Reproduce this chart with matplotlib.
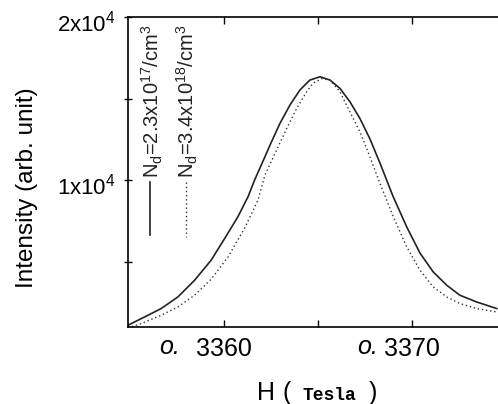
import matplotlib
matplotlib.use("Agg")
import matplotlib.pyplot as plt
import matplotlib.transforms as mtransforms
from matplotlib.lines import Line2D
from matplotlib.ticker import FixedLocator

plt.rcParams['font.family'] = ['Liberation Sans', 'DejaVu Sans']
plt.rcParams['mathtext.fontset'] = 'custom'
plt.rcParams['mathtext.rm'] = 'Liberation Sans'
plt.rcParams['mathtext.it'] = 'Liberation Sans:italic'

# field (Tesla) and intensity
h_low = [0.335489, 0.335578, 0.335666, 0.335755, 0.335844, 0.335932, 0.336004,
         0.336074, 0.336128, 0.336163, 0.336218, 0.336245, 0.336298, 0.336351,
         0.336404, 0.336457, 0.336511, 0.336564, 0.336617, 0.336670, 0.336723,
         0.336777, 0.336830, 0.336899, 0.336972, 0.337043, 0.337113, 0.337185,
         0.337255, 0.337344, 0.337451]
i_low = [1104, 1614, 2129, 2840, 3865, 5092, 6423,
         7749, 8976, 10000, 11430, 12147, 13479, 14601,
         15522, 16135, 16338, 16135, 15626, 14804, 13785,
         12515, 11043, 9018, 7135, 5522, 4374, 3558,
         2945, 2534, 2129]

h_high = [0.335489, 0.335560, 0.335666, 0.335755, 0.335844, 0.335932, 0.336021,
          0.336110, 0.336181, 0.336218, 0.336280, 0.336334, 0.336387, 0.336440,
          0.336475, 0.336520, 0.336564, 0.336617, 0.336670, 0.336723, 0.336759,
          0.336830, 0.336901, 0.336972, 0.337043, 0.337113, 0.337185, 0.337255,
          0.337344, 0.337451]
i_high = [951, 1209, 1718, 2227, 2945, 3926, 5276,
          7055, 8773, 10307, 11841, 13172, 14399, 15418,
          15951, 16227, 16135, 15418, 14190, 12963, 11945,
          9798, 7749, 5908, 4479, 3454, 2840, 2436,
          2129, 1920]

label_low = r"N$_{\mathregular{d}}$=2.3x10$^{\mathregular{17}}$/cm$^{\mathregular{3}}$"
label_high = r"N$_{\mathregular{d}}$=3.4x10$^{\mathregular{18}}$/cm$^{\mathregular{3}}$"

x_major = [0.3360, 0.3370]
x_major_labels = ["3360", "3370"]
x_minor = [0.3365]
y_major = [10000, 20000]
y_major_labels = [r"1x10$^{\mathregular{4}}$", r"2x10$^{\mathregular{4}}$"]
y_minor = [5000, 15000]

W, H = 498, 404
fig = plt.figure(figsize=(W / 100, H / 100), dpi=100)
# axes runs past the right edge of the picture, as in the scanned original
ax = fig.add_axes([128 / W, (H - 327) / H, (506 - 128) / W, 310 / H])

solid = dict(color='#222222', lw=1.2, ls='-')
dotted = dict(color='#333333', lw=1.0, ls=(0, (1, 2)))
ax.plot(h_low, i_low, **solid)
ax.plot(h_high, i_high, **dotted)

ax.set_xlim(0.33549, 0.33750)
ax.set_ylim(1000, 20000)

ax.xaxis.set_major_locator(FixedLocator(x_major))
ax.set_xticklabels(x_major_labels)
ax.xaxis.set_minor_locator(FixedLocator(x_minor))
ax.yaxis.set_major_locator(FixedLocator(y_major))
ax.set_yticklabels(y_major_labels)
ax.yaxis.set_minor_locator(FixedLocator(y_minor))

ax.tick_params(axis='x', which='both', direction='in', top=True, length=5,
               width=1, labelsize=18, pad=7)
ax.tick_params(axis='y', which='both', direction='inout', right=False, length=6,
               width=1, labelsize=16, pad=6)
for sp in ax.spines.values():
    sp.set_linewidth(1.2)

# y tick labels sit a little below their ticks in the original
shift = mtransforms.ScaledTranslation(0, -4 / 100, fig.dpi_scale_trans)
for lab in ax.get_yticklabels():
    lab.set_transform(lab.get_transform() + shift)

# italic "o." prefix sitting left of each x tick number
for xv, gap in zip(x_major, [-44, -34]):
    ax.annotate("o.", xy=(xv, 0), xycoords=ax.get_xaxis_transform(),
                xytext=(gap, -27), textcoords='offset pixels',
                ha='right', va='baseline', fontsize=18, style='italic')

# axis titles
fig.text(27 / W, 1 - 188 / H, "Intensity (arb. unit)", rotation=90,
         ha='center', va='center', fontsize=17.5)
base = 1 - 400 / H
fig.text(257 / W, base, "H", ha='left', va='baseline', fontsize=18)
fig.text(282 / W, base, "(", ha='left', va='baseline', fontsize=18)
fig.text(302 / W, base, "Tesla", ha='left', va='baseline', fontsize=13,
         family='Liberation Mono', weight='bold')
fig.text(369 / W, base, ")", ha='left', va='baseline', fontsize=18)

# hand-made legend, text written upwards
fig.text(152 / W, 1 - 178 / H, label_low, rotation=90, ha='center',
         va='bottom', fontsize=14.5, color='#222222')
fig.text(187 / W, 1 - 178 / H, label_high, rotation=90, ha='center',
         va='bottom', fontsize=14.5, color='#222222')
fig.add_artist(Line2D([150 / W, 150 / W], [1 - 182 / H, 1 - 235 / H],
                      transform=fig.transFigure, **solid))
fig.add_artist(Line2D([186 / W, 186 / W], [1 - 182 / H, 1 - 237 / H],
                      transform=fig.transFigure, **dotted))

fig.savefig("out.png", dpi=100)
